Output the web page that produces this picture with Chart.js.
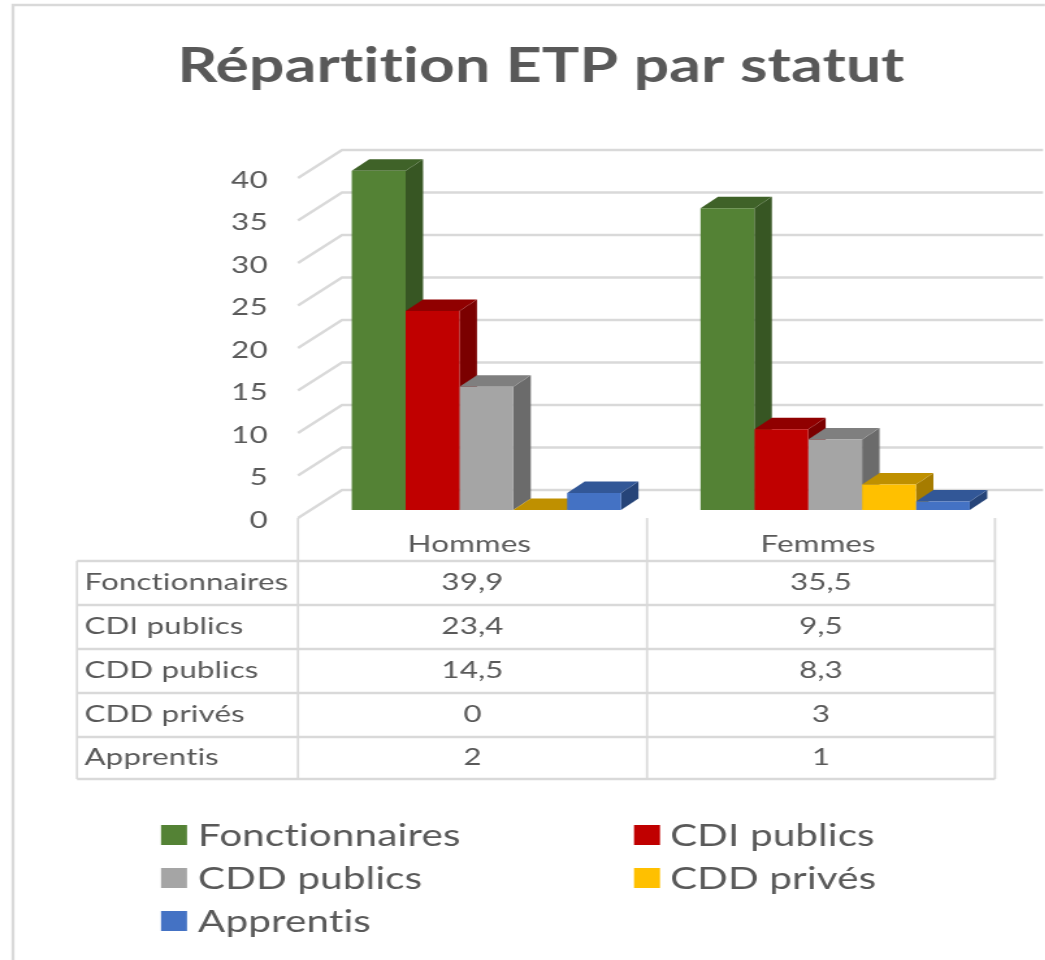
<!DOCTYPE html>
<html lang="fr">
<head>
<meta charset="utf-8">
<title>Répartition ETP par statut</title>
<style>
html,body{margin:0;padding:0;background:#fff;overflow:hidden;width:1045px;height:960px}
#wrap{width:1045px;height:960px;overflow:hidden;position:relative}
canvas{position:absolute;left:0;top:0;transform:scaleX(1.3);transform-origin:0 0;filter:blur(.55px)}
</style>
<script src="https://cdn.jsdelivr.net/npm/chart.js@4"></script>
</head>
<body>
<div id="wrap"><canvas id="c" width="804" height="960"></canvas></div>
<script>
const titleText = 'Répartition ETP par statut';
const categories = ['Hommes', 'Femmes'];
const seriesNames = ['Fonctionnaires', 'CDI publics', 'CDD publics', 'CDD privés', 'Apprentis'];
const fonctionnaires = [39.9, 35.5];
const cdiPublics = [23.4, 9.5];
const cddPublics = [14.5, 8.3];
const cddPrives = [0, 3];
const apprentis = [2, 1];
const seriesValues = [fonctionnaires, cdiPublics, cddPublics, cddPrives, apprentis];
const frontColors = ['#548235', '#c00000', '#a5a5a5', '#ffc000', '#4472c4'];
const topColors = ['#3f6228', '#900000', '#7f7f7f', '#bf9000', '#325797'];
const sideColors = ['#375623', '#7b0000', '#6b6b6b', '#a67c00', '#264478'];
const yTicks = [0, 5, 10, 15, 20, 25, 30, 35, 40];

const SX = 1.3;
const X = px => px / SX;
const TEXT = '#595959', LINE = '#d9d9d9';
const FONT = 'Lato';
const depthX = X(17.5), depthY = 11.5;
const leftPad = X(72.5);

const walls = {
  id: 'walls',
  beforeDraw(chart) {
    chart.ctx.letterSpacing = '0.15px';
  },
  beforeDatasetsDraw(chart) {
    const c = chart.ctx, y = chart.scales.y;
    c.save();
    c.strokeStyle = LINE; c.lineWidth = 2.3;
    c.beginPath();
    c.moveTo(X(13), 960); c.lineTo(X(13), 5); c.lineTo(X(1045), 5);
    c.stroke();
    yTicks.forEach(v => {
      const p = y.getPixelForValue(v);
      c.beginPath();
      c.moveTo(X(298), p + 8);
      c.lineTo(X(342), p - 20);
      c.lineTo(X(1043), p - 20);
      c.stroke();
    });
    seriesNames.forEach((_, i) => {
      chart.getDatasetMeta(i).data.forEach(bar => {
        const l = bar.x - bar.width / 2, r = bar.x + bar.width / 2, t = bar.y, b = bar.base;
        c.fillStyle = sideColors[i];
        c.beginPath();
        c.moveTo(r, t); c.lineTo(r + depthX, t - depthY); c.lineTo(r + depthX, b - depthY); c.lineTo(r, b);
        c.closePath(); c.fill();
        c.fillStyle = topColors[i];
        c.beginPath();
        c.moveTo(l, t); c.lineTo(l + depthX, t - depthY); c.lineTo(r + depthX, t - depthY); c.lineTo(r, t);
        c.closePath(); c.fill();
      });
    });
    c.restore();
  },
  afterDraw(chart) {
    const c = chart.ctx;
    const cols = [77, 298, 647, 995].map(X);
    const rows = [561, 605, 649, 693, 737, 779];
    c.save();
    c.strokeStyle = LINE; c.lineWidth = 2.3;
    rows.forEach(r => { c.beginPath(); c.moveTo(cols[0], r); c.lineTo(cols[3], r); c.stroke(); });
    c.lineWidth = 2.3 / SX;
    cols.forEach((x, k) => {
      c.beginPath(); c.moveTo(x, k === 0 ? 561 : 518); c.lineTo(x, 779); c.stroke();
    });
    c.fillStyle = TEXT; c.textBaseline = 'middle';
    c.font = `24px ${FONT}`;
    seriesNames.forEach((name, r) => {
      const cy = (rows[r] + rows[r + 1]) / 2 - 1;
      c.textAlign = 'left';
      c.fillText(name, X(84.5), cy);
      c.textAlign = 'center';
      categories.forEach((_, k) => {
        c.fillText(String(seriesValues[r][k]).replace('.', ','), (cols[k + 1] + cols[k + 2]) / 2, cy);
      });
    });
    const lx = [161, 634], sw = [198, 670], ly = [835, 878, 921];
    c.font = `31px ${FONT}`;
    c.textAlign = 'left';
    seriesNames.forEach((name, n) => {
      const col = n % 2, row = Math.floor(n / 2);
      c.fillStyle = frontColors[n];
      c.fillRect(X(lx[col]), ly[row] - 10, X(26), 20);
      c.fillStyle = TEXT;
      c.fillText(name, X(sw[col]), ly[row] + 1);
    });
    c.restore();
  }
};

new Chart(document.getElementById('c'), {
  type: 'bar',
  data: {
    labels: categories,
    datasets: seriesNames.map((name, i) => ({
      label: name,
      data: seriesValues[i],
      backgroundColor: frontColors[i],
      barPercentage: 1,
      categoryPercentage: 0.772
    }))
  },
  options: {
    responsive: false,
    animation: false,
    devicePixelRatio: 1,
    layout: { padding: { left: leftPad, right: 804 - X(1009.5), top: 0, bottom: 390 } },
    plugins: {
      legend: { display: false },
      tooltip: { enabled: false },
      title: {
        display: true,
        text: titleText,
        color: TEXT,
        font: { family: FONT, size: 48, weight: 'bold', lineHeight: 1.2 },
        padding: { top: 37.5, bottom: 74.9 }
      }
    },
    scales: {
      x: {
        grid: { display: false },
        border: { display: false },
        afterFit: s => { s.height = 60; },
        ticks: {
          color: TEXT, font: { family: FONT, size: 24 },
          padding: 12, labelOffset: -X(17), maxRotation: 0, autoSkip: false
        }
      },
      y: {
        min: 0, max: 40,
        grid: { display: false, drawTicks: false },
        border: { display: false },
        afterFit: s => { s.width = X(312) - leftPad; },
        ticks: {
          stepSize: 5, color: TEXT, font: { family: FONT, size: 24 },
          padding: 34, labelOffset: 10
        }
      }
    }
  },
  plugins: [walls]
});
</script>
</body>
</html>
